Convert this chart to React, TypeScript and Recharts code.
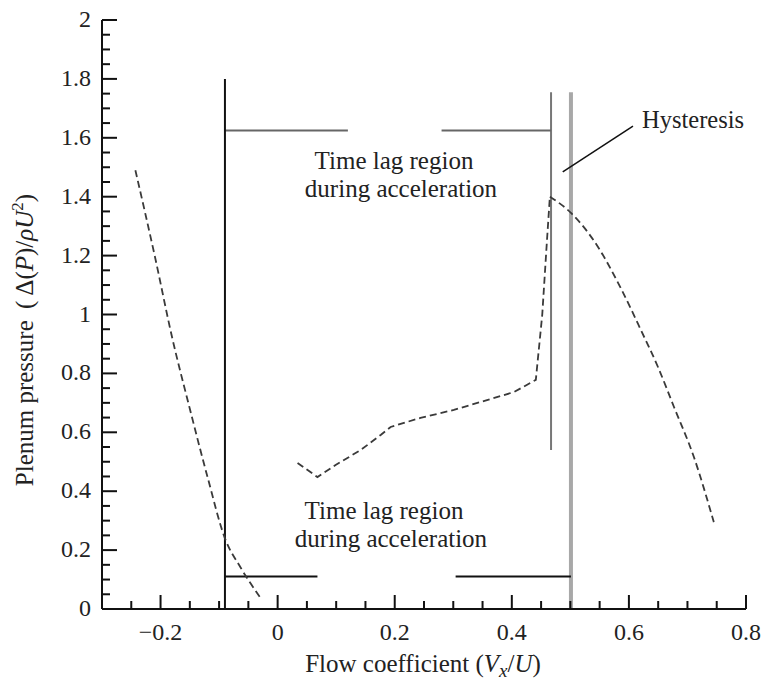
import { LineChart, Line, XAxis, YAxis } from 'recharts';

// Dashed characteristic: stalled branch on the left
const stalledBranch = [
  { x: -0.243, y: 1.49 },
  { x: -0.21, y: 1.2 },
  { x: -0.18, y: 0.92 },
  { x: -0.15, y: 0.68 },
  { x: -0.12, y: 0.45 },
  { x: -0.09, y: 0.24 },
  { x: -0.063, y: 0.14 },
  { x: -0.03, y: 0.04 },
];

// Dashed characteristic: acceleration up to the jump
const accelBranch = [
  { x: 0.034, y: 0.496 },
  { x: 0.068, y: 0.448 },
  { x: 0.099, y: 0.489 },
  { x: 0.142, y: 0.54 },
  { x: 0.176, y: 0.591 },
  { x: 0.193, y: 0.618 },
  { x: 0.244, y: 0.649 },
  { x: 0.301, y: 0.676 },
  { x: 0.359, y: 0.71 },
  { x: 0.404, y: 0.737 },
  { x: 0.441, y: 0.778 },
  { x: 0.452, y: 1.0 },
  { x: 0.46, y: 1.25 },
  { x: 0.465, y: 1.4 },
];

// Dashed characteristic: unstalled branch after the jump
const unstalledBranch = [
  { x: 0.465, y: 1.4 },
  { x: 0.501, y: 1.345 },
  { x: 0.547, y: 1.23 },
  { x: 0.586, y: 1.09 },
  { x: 0.621, y: 0.945 },
  { x: 0.65, y: 0.82 },
  { x: 0.677, y: 0.686 },
  { x: 0.711, y: 0.516 },
  { x: 0.745, y: 0.295 },
];

// Region markers
const leftBar = [{ x: -0.09, y: 0 }, { x: -0.09, y: 1.8 }];
const upperBracketA = [{ x: -0.09, y: 1.625 }, { x: 0.12, y: 1.625 }];
const upperBracketB = [{ x: 0.28, y: 1.625 }, { x: 0.467, y: 1.625 }];
const innerBar = [{ x: 0.467, y: 0.54 }, { x: 0.467, y: 1.755 }];
const outerBar = [{ x: 0.501, y: 0 }, { x: 0.501, y: 1.755 }];
const lowerBracketA = [{ x: -0.09, y: 0.11 }, { x: 0.068, y: 0.11 }];
const lowerBracketB = [{ x: 0.304, y: 0.11 }, { x: 0.501, y: 0.11 }];
const hysteresisLeader = [{ x: 0.487, y: 1.484 }, { x: 0.607, y: 1.64 }];

const xTicks = [
  -0.25, -0.2, -0.15, -0.1, -0.05, 0, 0.05, 0.1, 0.15, 0.2, 0.25, 0.3, 0.35,
  0.4, 0.45, 0.5, 0.55, 0.6, 0.65, 0.7, 0.75, 0.8,
];
const xLabels = [-0.2, 0, 0.2, 0.4, 0.6, 0.8];

const yTicks = [
  0, 0.05, 0.1, 0.15, 0.2, 0.25, 0.3, 0.35, 0.4, 0.45, 0.5, 0.55, 0.6, 0.65,
  0.7, 0.75, 0.8, 0.85, 0.9, 0.95, 1, 1.05, 1.1, 1.15, 1.2, 1.25, 1.3, 1.35,
  1.4, 1.45, 1.5, 1.55, 1.6, 1.65, 1.7, 1.75, 1.8, 1.85, 1.9, 1.95, 2,
];
const yLabels = [0, 0.2, 0.4, 0.6, 0.8, 1, 1.2, 1.4, 1.6, 1.8, 2];

const FONT = "'Liberation Serif', 'Times New Roman', serif";
const INK = '#111';
const TEXT = '#222';
const CURVE = '#3a3a3a';

const isLabel = (list: number[], v: number) => list.some((l) => Math.abs(l - v) < 1e-6);
const fmt = (v: number) => {
  const s = String(Math.round(Math.abs(v) * 10) / 10);
  return v < -1e-9 ? `\u2212${s}` : s;
};

const XTick = (props: any) => {
  const { x, y, payload } = props;
  const major = isLabel(xLabels, payload.value);
  return (
    <g>
      <line x1={x} x2={x} y1={y} y2={y - (major ? 14 : 8)} stroke={INK} strokeWidth={2} />
      {major && (
        <text x={x} y={y + 31} textAnchor="middle" style={{ fontFamily: FONT }} fontSize={24} fill={TEXT}>
          {fmt(payload.value)}
        </text>
      )}
    </g>
  );
};

const YTick = (props: any) => {
  const { x, y, payload } = props;
  const major = isLabel(yLabels, payload.value);
  return (
    <g>
      <line x1={x} x2={x + (major ? 15 : 8)} y1={y} y2={y} stroke={INK} strokeWidth={2} />
      {major && (
        <text x={x - 11} y={y + 7} textAnchor="end" style={{ fontFamily: FONT }} fontSize={24} fill={TEXT}>
          {fmt(payload.value)}
        </text>
      )}
    </g>
  );
};

export default function App() {
  const seg = (data: any[], stroke: string, width: number, key: string) => (
    <Line
      key={key}
      data={data}
      dataKey="y"
      stroke={stroke}
      strokeWidth={width}
      dot={false}
      activeDot={false}
      isAnimationActive={false}
    />
  );

  const dashed = (data: any[], key: string, type: 'linear' | 'monotone') => (
    <Line
      key={key}
      type={type}
      data={data}
      dataKey="y"
      stroke={CURVE}
      strokeWidth={1.8}
      strokeDasharray="7 4"
      dot={false}
      activeDot={false}
      isAnimationActive={false}
    />
  );

  return (
    <div style={{ position: 'absolute', left: 0, top: 0, width: 761, height: 688, background: '#fff', fontFamily: FONT }}>
      <LineChart width={761} height={688} margin={{ top: 20, right: 15, left: 42, bottom: 49 }}>
        <XAxis
          type="number"
          dataKey="x"
          domain={[-0.3, 0.8]}
          ticks={xTicks}
          interval={0}
          tickSize={0}
          tickMargin={0}
          tickLine={false}
          tick={<XTick />}
          height={30}
          axisLine={{ stroke: INK, strokeWidth: 2 }}
          allowDataOverflow
        />
        <YAxis
          type="number"
          domain={[0, 2]}
          ticks={yTicks}
          interval={0}
          tickSize={0}
          tickMargin={0}
          tickLine={false}
          tick={<YTick />}
          width={60}
          axisLine={{ stroke: INK, strokeWidth: 2 }}
          allowDataOverflow
        />
        {seg(outerBar, '#a8a8a8', 4, 'outer')}
        {seg(innerBar, '#777', 2, 'inner')}
        {seg(upperBracketA, '#666', 2, 'ua')}
        {seg(upperBracketB, '#666', 2, 'ub')}
        {seg(leftBar, INK, 2, 'left')}
        {seg(lowerBracketA, INK, 2, 'la')}
        {seg(lowerBracketB, INK, 2, 'lb')}
        {seg(hysteresisLeader, INK, 1.5, 'hy')}
        {dashed(stalledBranch, 'stalled', 'monotone')}
        {dashed(accelBranch, 'accel', 'linear')}
        {dashed(unstalledBranch, 'unstalled', 'monotone')}
      </LineChart>
      <svg
        width={761}
        height={688}
        style={{ position: 'absolute', left: 0, top: 0, pointerEvents: 'none', fontFamily: FONT }}
        fill={TEXT}
      >
        <text x={394} y={169} textAnchor="middle" fontSize={25}>Time lag region</text>
        <text x={401} y={197} textAnchor="middle" fontSize={25}>during acceleration</text>
        <text x={384} y={519} textAnchor="middle" fontSize={25}>Time lag region</text>
        <text x={391} y={547} textAnchor="middle" fontSize={25}>during acceleration</text>
        <text x={642} y={128} fontSize={24.5}>Hysteresis</text>
        <text x={423} y={672} textAnchor="middle" fontSize={25}>
          Flow coefficient (<tspan fontStyle="italic">V</tspan>
          <tspan fontStyle="italic" fontSize={19} dy={5}>x</tspan>
          <tspan dy={-5}>/</tspan>
          <tspan fontStyle="italic">U</tspan>)
        </text>
        <text x={33} y={340} textAnchor="middle" fontSize={25} transform="rotate(-90 33 340)">
          Plenum pressure {'\u2009'}({'\u2009'}Δ(<tspan fontStyle="italic">P</tspan>)/
          <tspan fontStyle="italic">ρU</tspan>
          <tspan fontSize={17} dy={-10}>2</tspan>
          <tspan dy={10}>)</tspan>
        </text>
      </svg>
    </div>
  );
}
